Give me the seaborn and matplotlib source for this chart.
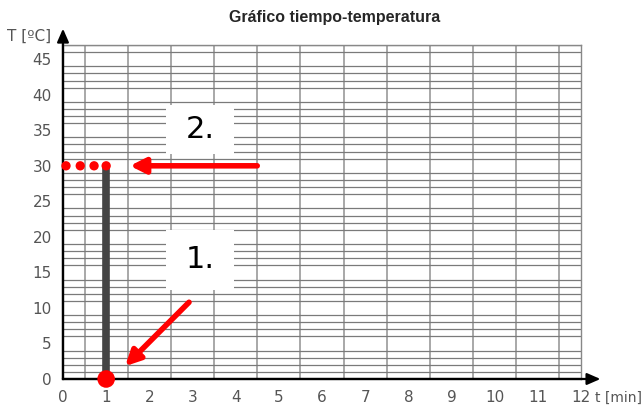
import numpy as np
import pandas as pd
import matplotlib
matplotlib.use('Agg')
import matplotlib.pyplot as plt
from matplotlib.patches import Rectangle
import seaborn as sns

sns.set_style('white')

# data
t_line = [1, 1]
T_line = [0, 30]
t_start = [1]
T_start = [0]
t_dots = [0.07, 0.4, 0.72, 1.0]
T_dots = [30, 30, 30, 30]

# annotations: label, box (x0, y0, x1, y1), arrow tail, arrow head
labels = ['1.', '2.']
boxes = [(2.38, 12.5, 3.96, 21.0), (2.38, 31.7, 3.96, 38.5)]
arrow_tail = [(2.92, 10.8), (4.5, 30)]
arrow_head = [(1.44, 1.8), (1.55, 30)]

x_ticks = list(range(0, 13))
y_ticks = list(range(0, 50, 5))

fig = plt.figure(figsize=(6.42, 4.08), dpi=100)
ax = fig.add_axes([0.0981, 0.0711, 0.8069, 0.8186])

ax.set_xlim(0, 12)
ax.set_ylim(0, 47)
ax.set_xticks(x_ticks)
ax.set_yticks(y_ticks)
ax.set_xticks(np.arange(0, 12.01, 0.5), minor=True)
ax.set_yticks(np.arange(0, 47.01, 1), minor=True)
ax.grid(which='minor', axis='x', color='#999999', lw=1.2)
ax.grid(which='minor', axis='y', color='#7a7a7a', lw=0.9)
ax.tick_params(which='minor', length=0)
ax.tick_params(which='major', direction='inout', length=9, width=1.6,
               color='black', labelsize=11, labelcolor='#555555')
ax.set_axisbelow(True)

for s in ['top', 'right']:
    ax.spines[s].set_color('#888888')
    ax.spines[s].set_linewidth(1.0)
for s in ['left', 'bottom']:
    ax.spines[s].set_color('black')
    ax.spines[s].set_linewidth(1.6)

# axis arrows
ax.annotate('', xy=(12.45, 0), xytext=(0, 0), annotation_clip=False,
            arrowprops=dict(arrowstyle='-|>,head_length=0.8,head_width=0.35',
                            color='black', lw=1.6, shrinkA=0, shrinkB=0))
ax.annotate('', xy=(0, 49.3), xytext=(0, 0), annotation_clip=False,
            arrowprops=dict(arrowstyle='-|>,head_length=0.8,head_width=0.35',
                            color='black', lw=1.6, shrinkA=0, shrinkB=0))

# white label boxes
for lab, (x0, y0, x1, y1) in zip(labels, boxes):
    ax.add_patch(Rectangle((x0, y0), x1 - x0, y1 - y0, facecolor='white',
                           edgecolor='none', zorder=3))
    ax.text((x0 + x1) / 2, (y0 + y1) / 2, lab, ha='center', va='center',
            fontsize=22, color='black', zorder=4)

# red arrows
for (tx, ty), (hx, hy) in zip(arrow_tail, arrow_head):
    ax.annotate('', xy=(hx, hy), xytext=(tx, ty), zorder=5,
                arrowprops=dict(arrowstyle='-|>,head_length=0.9,head_width=0.45',
                                color='#ff0000', lw=4, shrinkA=0, shrinkB=0))

# thick vertical bar and red markers
df_line = pd.DataFrame({'t': t_line, 'T': T_line})
sns.lineplot(data=df_line, x='t', y='T', color='#444444', lw=5.5, ax=ax,
             estimator=None, sort=False, zorder=5, solid_capstyle='butt')
sns.scatterplot(x=t_dots, y=T_dots, color='#ff0000', s=45, edgecolor='none',
                ax=ax, zorder=6, clip_on=False)
sns.scatterplot(x=t_start, y=T_start, color='#ff0000', s=160, edgecolor='none',
                ax=ax, zorder=6, clip_on=False)

ax.set_xlabel('')
ax.set_ylabel('')

fig.text(0.522, 0.957, 'Gráfico tiempo-temperatura', ha='center', va='center',
         fontsize=11.5, fontweight='bold', family='Liberation Sans')
fig.text(0.045, 0.91, 'T [ºC]', ha='center', va='center', fontsize=11,
         color='#555555')
fig.text(0.927, 0.026, 't [min]', ha='left', va='center', fontsize=10,
         color='#555555')

fig.savefig('out.png', dpi=100)
